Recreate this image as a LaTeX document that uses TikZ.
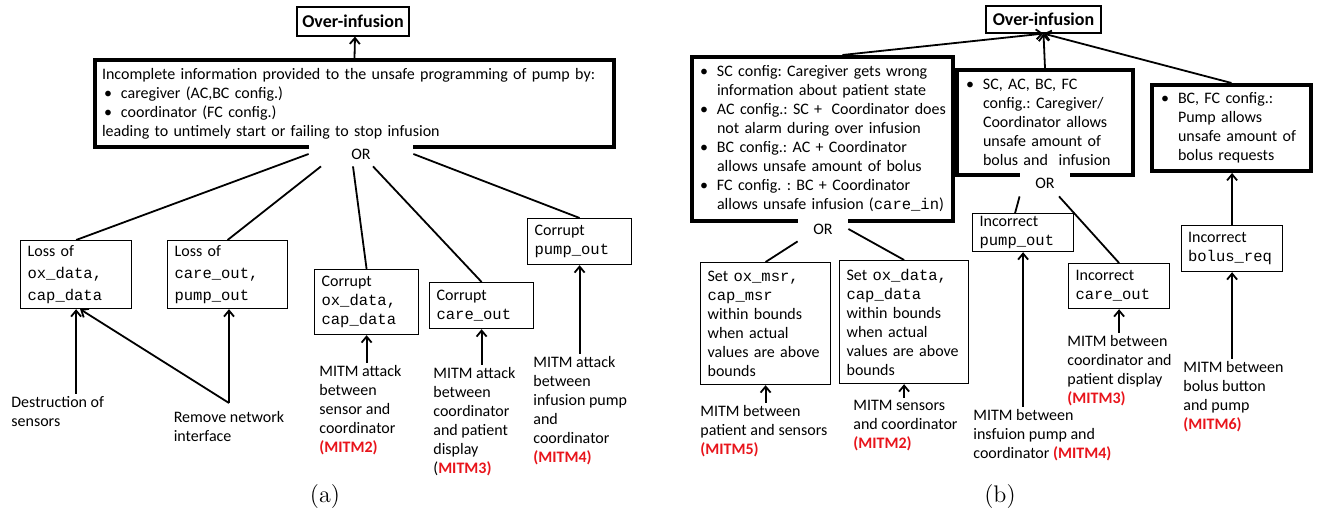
\documentclass[tikz,border=0pt]{standalone}
\usepackage{fontspec}
\usetikzlibrary{arrows.meta}
\setmonofont{Liberation Mono}[Scale=0.97]
\newfontfamily\calib{Carlito}
\frenchspacing
\definecolor{mitmred}{HTML}{E8141B}
\newcommand{\mitmtag}[1]{\textcolor{mitmred}{\textbf{(MITM#1)}}}
\newcommand{\blt}{\makebox[9.5pt][l]{\hspace{1pt}\textbullet}}
\newcommand{\bind}{\hspace*{9.5pt}}

\begin{document}
\begin{tikzpicture}[x=0.5pt,y=-0.5pt,>={Straight Barb[length=3pt,width=5pt]},
  txt/.style={font=\calib\fontsize{8}{9.5}\selectfont,align=left},
  box/.style={txt,draw,line width=0.6pt,fill=white,anchor=north west,inner xsep=3.5pt,inner ysep=1pt},
  thickbox/.style={box,line width=2pt},
  topbox/.style={draw,line width=0.6pt,font=\calib\bfseries\fontsize{9}{10}\selectfont,inner sep=0pt},
  orgate/.style={txt,fill=white,inner sep=0pt},
  lbl/.style={txt,anchor=north west,inner sep=1pt},
  link/.style={line width=0.9pt}]
 \useasboundingbox (0,0) rectangle (1318,523);
 % (a)
 \node[topbox,minimum width=56pt,minimum height=14.5pt] (ova) at (353,21.5) {Over-infusion};
 \node[thickbox,text width=252.5pt,minimum height=43.5pt] (boxa) at (93,58)
   {Incomplete information provided to the unsafe programming of pump by:\\
    \blt caregiver (AC,BC config.)\\
    \blt coordinator (FC config.)\\
    leading to untimely start or failing to stop infusion};
 \node[orgate,minimum width=52pt,minimum height=12pt] (ora) at (361,154) {OR};
 \node[box,text width=48.5pt,minimum height=34pt] (loss1) at (20,240)
   {Loss of\\[1.5pt]\texttt{ox\_data,}\\[1.5pt]\texttt{cap\_data}};
 \node[box,text width=53pt,minimum height=34pt] (loss2) at (167,240)
   {Loss of\\[1.5pt]\texttt{care\_out,}\\[1.5pt]\texttt{pump\_out}};
 \node[box,text width=45pt,minimum height=32.5pt] (cor1) at (314,269)
   {Corrupt\\\texttt{ox\_data,}\\\texttt{cap\_data}};
 \node[box,text width=45pt,minimum height=23pt] (cor2) at (429,282)
   {Corrupt\\\texttt{care\_out}};
 \node[box,text width=45pt,minimum height=23pt] (corpump) at (527,218)
   {Corrupt\\\texttt{pump\_out}};
 \draw[link,->] (boxa.north) -- ([xshift=1pt]ova.south);
 \draw[link] (ora.west) -- (loss1.north);
 \draw[link] ([xshift=-20pt]ora.south) -- (loss2.north);
 \draw[link] ([xshift=-4pt]ora.south) -- (cor1.north);
 \draw[link] ([xshift=6pt]ora.south) -- (cor2.north);
 \draw[link] (ora.east) -- (corpump.north);
 \node[lbl] (dest) at (9,394) {Destruction of\\sensors};
 \node[lbl,anchor=north] (rem) at (229,409) {Remove network\\interface};
 \coordinate (remv) at ([yshift=3pt]rem.north);
 \node[lbl] (mitm2a) at (317,363) {MITM attack\\between\\sensor and\\coordinator\\\mitmtag{2}};
 \node[lbl] (mitm3a) at (431,365)
   {MITM attack\\between\\coordinator\\and patient\\display\\(\textcolor{mitmred}{\textbf{MITM3)}}};
 \node[lbl] (mitm4a) at (531,354) {MITM attack\\between\\infusion pump\\and\\coordinator\\\mitmtag{4}};
 \draw[link,->] (dest.north -| loss1.south) -- (loss1.south);
 \draw[link,->] (remv) -- (remv |- loss2.south);
 \draw[link,->] (remv) -- ([xshift=2pt]loss1.south);
 \draw[link,->] (mitm2a.north -| cor1.south) -- (cor1.south);
 \draw[link,->] (mitm3a.north -| cor2.south) -- (cor2.south);
 \draw[link,->] (mitm4a.north -| corpump.south) -- (corpump.south);
 \node (capa) at (325,497) {\large (a)};
 % (b)
 \node[topbox,minimum width=57.5pt,minimum height=13.5pt] (ovb) at (1043.5,19.5) {Over-infusion};
 \node[thickbox,text width=124.5pt,minimum height=82pt,inner xsep=3pt] (cfgall) at (690,55)
   {\blt\mbox{SC config: Caregiver gets wrong}\\
    \bind\mbox{information about patient state}\\
    \blt\mbox{AC config.: SC +\hspace{2pt} Coordinator does}\\
    \bind\mbox{not alarm during over infusion}\\
    \blt\mbox{BC config.: AC + Coordinator}\\
    \bind\mbox{allows unsafe amount of bolus}\\
    \blt\mbox{FC config. : BC + Coordinator}\\
    \bind\mbox{allows unsafe infusion (\texttt{care\_in})}};
 \node[orgate,minimum width=25pt,minimum height=12pt] (orb1) at (823,229) {OR};
 \node[thickbox,text width=81pt,minimum height=52.5pt] (cfgpump) at (955,68)
   {\blt SC, AC, BC, FC\\
    \bind config.: Caregiver/\\
    \bind Coordinator allows\\
    \bind unsafe amount of\\
    \bind bolus and\ \ infusion};
 \node[orgate,minimum width=25pt,minimum height=13pt] (orb2) at (1045,183) {OR};
 \node[thickbox,text width=72.5pt,minimum height=43pt] (cfgbolus) at (1150,83)
   {\blt BC, FC config.:\\
    \bind Pump allows\\
    \bind unsafe amount of\\
    \bind bolus requests};
 \node[box,text width=58pt,minimum height=61pt] (setmsr) at (700,262)
   {Set \texttt{ox\_msr,}\\\texttt{cap\_msr}\\within bounds\\when actual\\values are above\\bounds};
 \node[box,text width=57.5pt,minimum height=61.5pt] (setdata) at (839,260)
   {Set \texttt{ox\_data,}\\\texttt{cap\_data}\\within bounds\\when actual\\values are above\\bounds};
 \node[box,text width=43.5pt,minimum height=19pt] (pumpout) at (972,213)
   {Incorrect\\\texttt{pump\_out}};
 \node[box,text width=43.5pt,minimum height=22.5pt] (careout) at (1068,263)
   {Incorrect\\\texttt{care\_out}};
 \node[box,text width=44pt,minimum height=23pt,inner xsep=3.25pt] (bolusreq) at (1181,225)
   {Incorrect\\\texttt{bolus\_req}};
 \draw[link,->] ([xshift=10pt]cfgall.north) -- (ovb.south);
 \draw[link,->] (cfgpump.north) -- (ovb.south);
 \draw[link,->] (cfgbolus.north) -- (ovb.south);
 \draw[link] (orb1.south west) -- (setmsr.north);
 \draw[link] (orb1.east) -- (setdata.north);
 \draw[link] (orb2.south west) -- ([xshift=-4pt]pumpout.north);
 \draw[link] ([xshift=7pt]orb2.south) -- (careout.north);
 \node[lbl] (mitm5b) at (698,403) {MITM between\\patient and sensors\\\mitmtag{5}};
 \node[lbl] (mitm2b) at (851,398) {MITM sensors\\and coordinator\\\mitmtag{2}};
 \node[lbl] (mitm4b) at (971,407) {MITM between\\insfuion pump and\\coordinator \mitmtag{4}};
 \node[lbl] (mitm3b) at (1065,333) {MITM between\\coordinator and\\patient display\\\mitmtag{3}};
 \node[lbl] (mitm6b) at (1181,359) {MITM between\\bolus button\\and pump\\\mitmtag{6}};
 \draw[link,->] (mitm5b.north -| setmsr.south) -- (setmsr.south);
 \draw[link,->] (mitm2b.north -| setdata.south) -- (setdata.south);
 \draw[link,->] (mitm4b.north -| pumpout.south) -- (pumpout.south);
 \draw[link,->] (mitm3b.north -| careout.south) -- (careout.south);
 \draw[link,->] (mitm6b.north -| bolusreq.south) -- (bolusreq.south);
 \draw[link,->] (bolusreq.north) -- (bolusreq.north |- cfgbolus.south);
 \node (capb) at (1000,497) {\large (b)};
\end{tikzpicture}
\end{document}
